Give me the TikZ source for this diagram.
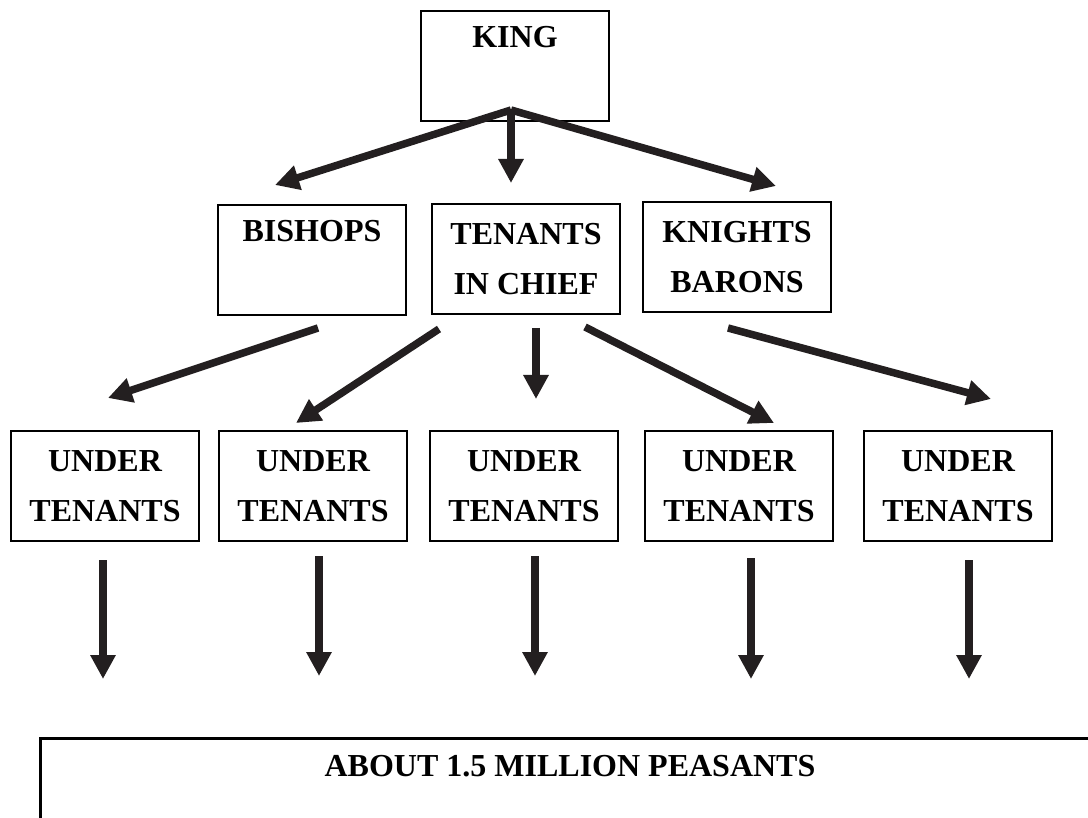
\documentclass[tikz,border=0pt]{standalone}
\usepackage{fontspec}
\setmainfont{Liberation Serif}
\usetikzlibrary{arrows.meta}
\definecolor{arrowink}{HTML}{231F20}
\newcommand\tierfont{\fontsize{32}{50}\selectfont\bfseries}

\begin{document}
\begin{tikzpicture}[x=1pt,y=-1pt]
        \tikzset{tierbox/.style={draw,line width=2.8pt,minimum width=188pt,minimum height=110pt,
                inner sep=0pt,align=center,font=\tierfont},
            onerow/.style={text depth=58pt},
            tierarrow/.style={draw=arrowink,line width=7.5pt,-{Triangle[length=24pt,width=24pt]}}}
        \useasboundingbox (0,0) rectangle (1088,818);
        % boxes
        \node[tierbox,onerow] (king) at (515,66) {KING};
        \node[tierbox,onerow] (bishops) at (312,260) {BISHOPS};
        \node[tierbox] (chief) at (526,259) {TENANTS\\IN CHIEF};
        \node[tierbox] (knights) at (737,257) {KNIGHTS\\BARONS};
        \foreach \i/\x in {1/105,2/313,3/524,4/739,5/958}
            \node[tierbox] (under\i) at (\x,486) {UNDER\\TENANTS};
        % peasants
        \draw[line width=3pt] (1088,738) -- (40,738) -- (40,818);
        \node[font=\tierfont,anchor=base] (peasants) at (570,776) {ABOUT 1.5 MILLION PEASANTS};
        % arrow ends
        \coordinate (kingfoot) at (511,110);
        \coordinate (tobishops) at (275,185);
        \coordinate (tochief) at (511,183);
        \coordinate (toknights) at (776,186);
        \coordinate (bishopsfoot) at (318,328);
        \coordinate (chiefleft) at (439,329);
        \coordinate (chiefmid) at (536,328);
        \coordinate (chiefright) at (585,327);
        \coordinate (knightsfoot) at (728,328);
        \coordinate (tounder1) at (108,398);
        \coordinate (tounder2) at (296,423);
        \coordinate (tounder3) at (536,399);
        \coordinate (tounder4) at (774,423);
        \coordinate (tounder5) at (991,399);
        % arrows
        \foreach \j in {tobishops,tochief,toknights}
            \draw[tierarrow] (kingfoot) -- (\j);
        \draw[tierarrow] (bishopsfoot) -- (tounder1);
        \draw[tierarrow] (chiefleft) -- (tounder2);
        \draw[tierarrow] (chiefmid) -- (tounder3);
        \draw[tierarrow] (chiefright) -- (tounder4);
        \draw[tierarrow] (knightsfoot) -- (tounder5);
        \foreach \i/\x/\a/\b in {1/103/560/679,2/319/556/676,3/535/556/676,4/751/558/679,5/969/560/679}{
            \coordinate (drop\i) at (\x,\a);
            \coordinate (droptip\i) at (\x,\b);
            \draw[tierarrow] (drop\i) -- (droptip\i);
        }
    \end{tikzpicture}
\end{document}
